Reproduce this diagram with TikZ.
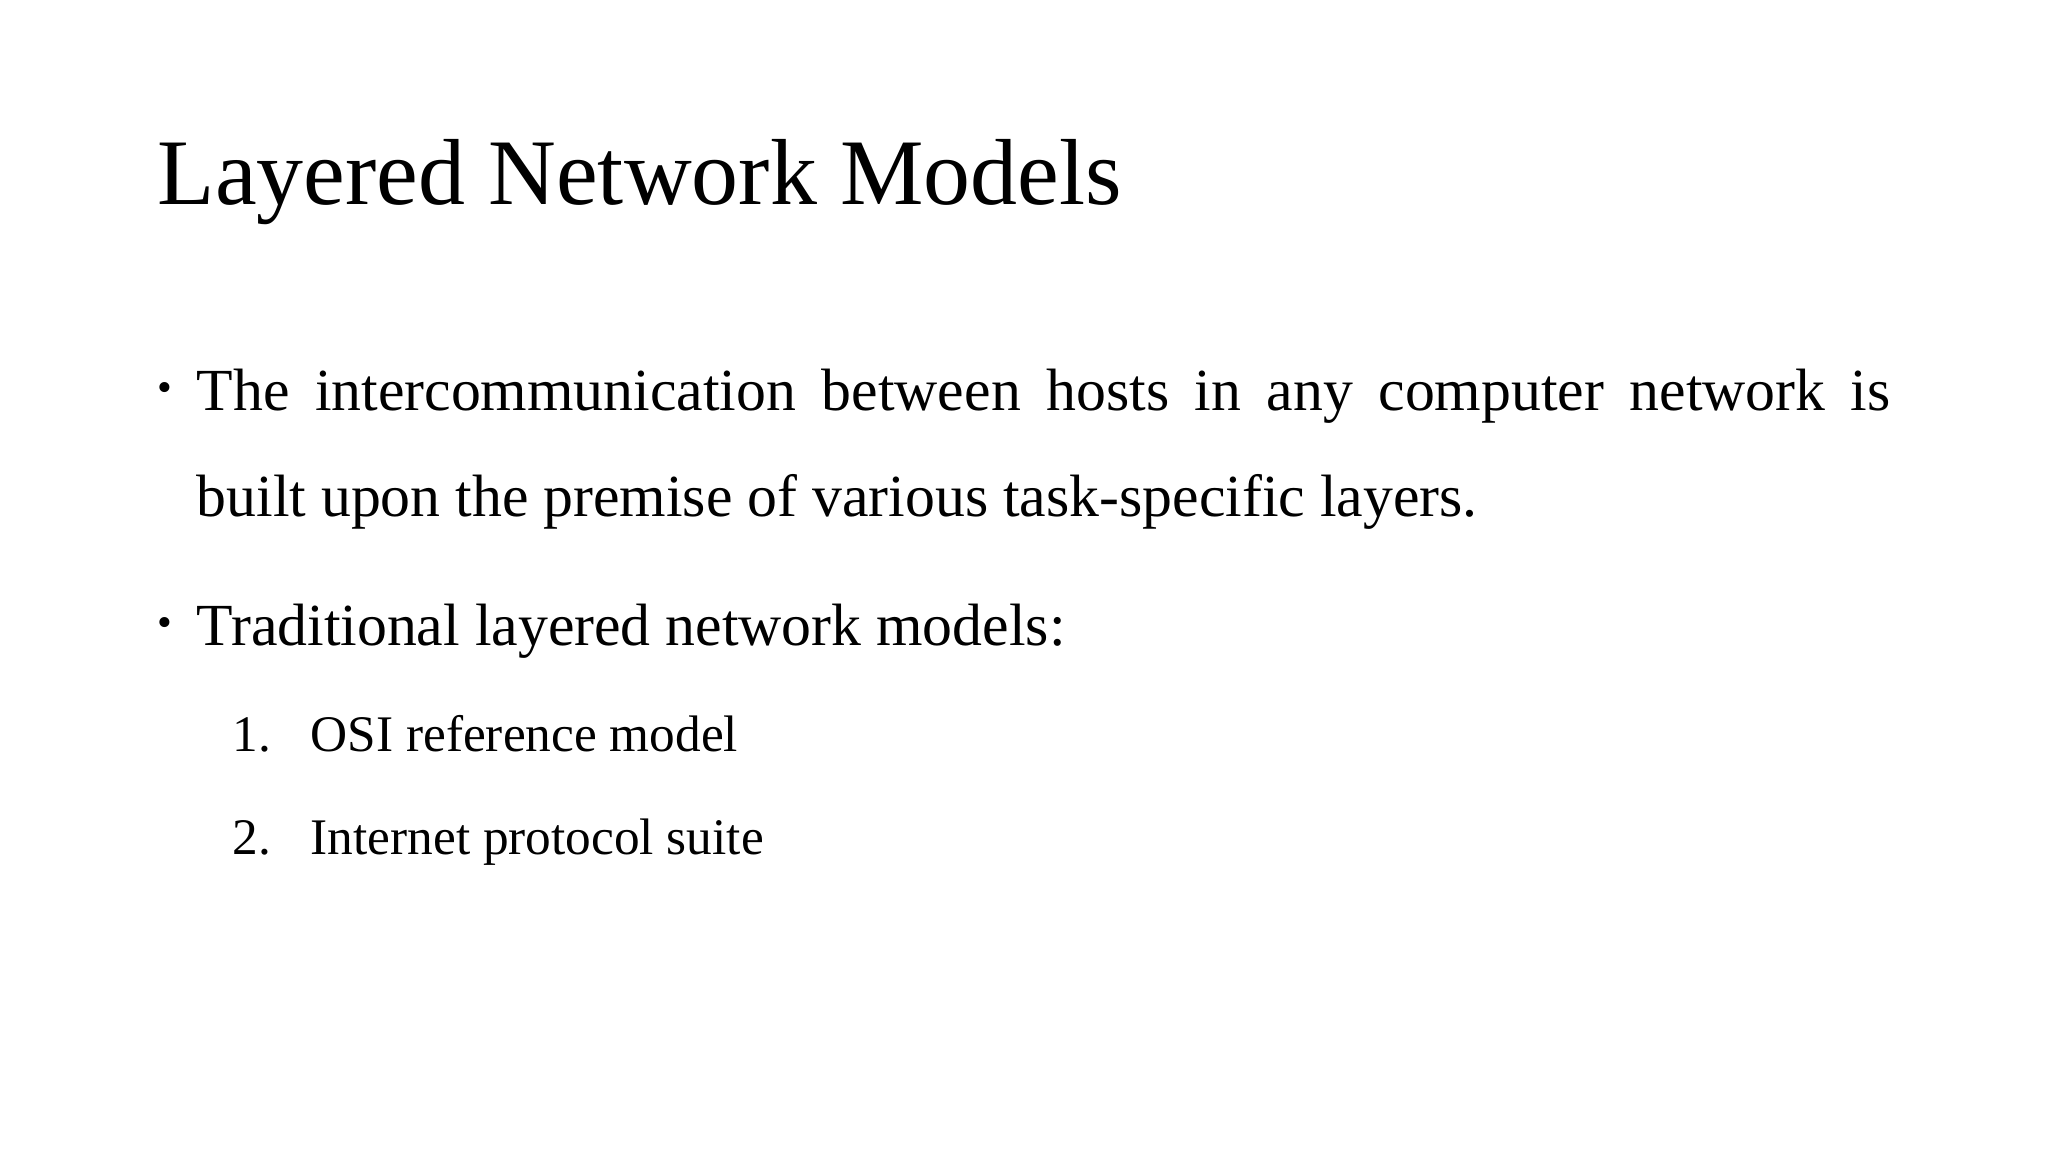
\documentclass[tikz,border=0pt]{standalone}
\usepackage{fontspec}
\setmainfont{Liberation Serif}
\begin{document}
\begin{tikzpicture}[x=1cm,y=1cm,
  txt/.style={inner sep=0pt,anchor=base west},
  body/.style={txt,font=\fontsize{17}{20}\selectfont},
  sub/.style={txt,font=\fontsize{14.6}{18}\selectfont},
  bul/.style={txt,font=\fontsize{12}{14}\selectfont}]
\useasboundingbox (0,0) rectangle (20.48,11.52);
\node[txt,font=\fontsize{26.7}{32}\selectfont] (title) at (1.57,9.47) {Layered Network Models};
\node[bul] (b1) at (1.57,7.50) {•};
\node[body] (l1) at (1.96,7.41) {\makebox[16.94cm][s]{The intercommunication between hosts in any computer network is}};
\node[body] (l2) at (1.96,6.35) {built upon the premise of various task-specific layers.};
\node[bul] (b2) at (1.57,5.15) {•};
\node[body] (l3) at (1.96,5.06) {Traditional layered network models:};
\node[sub] (n1) at (2.32,4.00) {1.};
\node[sub] (i1) at (3.10,4.00) {OSI reference model};
\node[sub] (n2) at (2.32,2.97) {2.};
\node[sub] (i2) at (3.10,2.97) {Internet protocol suite};
\end{tikzpicture}
\end{document}
